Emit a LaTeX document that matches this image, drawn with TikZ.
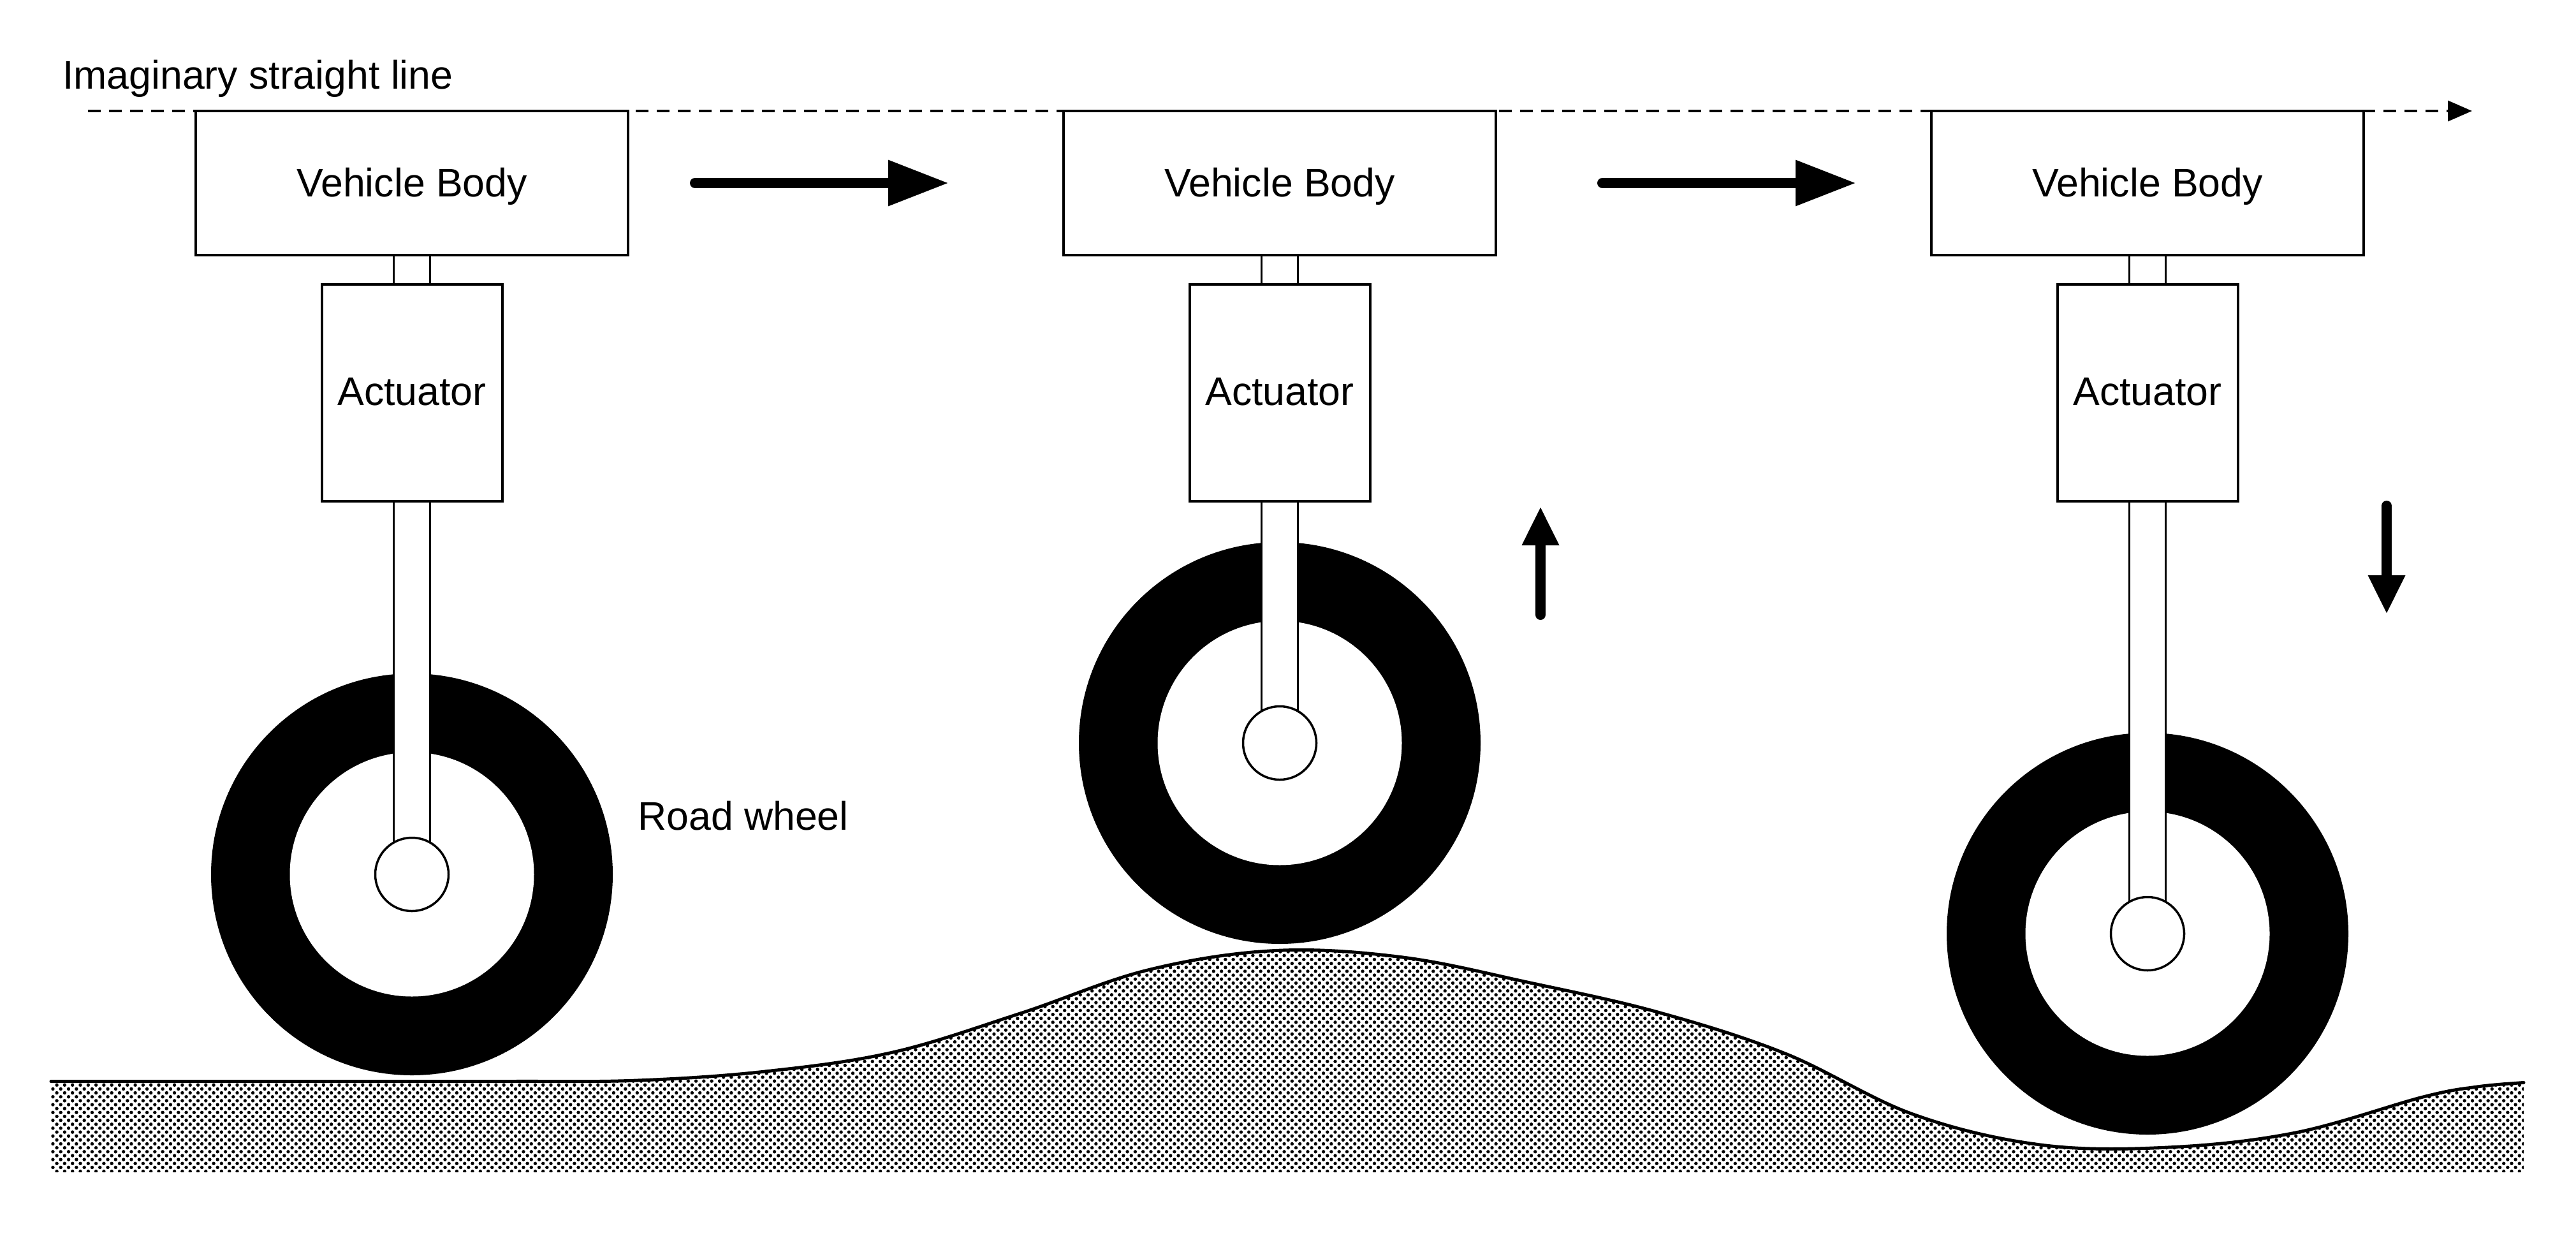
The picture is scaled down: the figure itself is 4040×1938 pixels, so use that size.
\documentclass[tikz,border=0pt]{standalone}
\usepackage{fontspec}
\setmainfont{Liberation Sans}
\usetikzlibrary{arrows.meta,patterns}
\pgfdeclarepatternformonly{grounddots}{\pgfqpoint{-1pt}{-1pt}}{\pgfqpoint{13.3pt}{13.3pt}}{\pgfqpoint{12.3pt}{12.3pt}}{%
  \pgfpathcircle{\pgfqpoint{3pt}{3pt}}{2.7pt}%
  \pgfpathcircle{\pgfqpoint{9.15pt}{9.15pt}}{2.7pt}%
  \pgfusepath{fill}}
\tikzset{
  lbl/.style={font=\fontsize{62.6}{70}\selectfont,inner sep=0pt,text=black},
  box/.style={lbl,draw=black,fill=white,line width=4pt,rectangle,text height=45pt},
  bodybox/.style={box,text depth=2pt,minimum width=678pt,minimum height=226pt},
  actbox/.style={box,text depth=6pt,minimum width=283pt,minimum height=340pt},
  rodfill/.style={rectangle,fill=white,draw=none,inner sep=0pt,minimum width=57pt},
  rodline/.style={draw=black,line width=3.5pt},
  tyre/.style={circle,fill=black,draw=none,inner sep=0pt,minimum size=630pt},
  rim/.style={circle,fill=white,draw=none,inner sep=0pt,minimum size=383pt},
  hub/.style={circle,fill=white,draw=black,line width=3.5pt,inner sep=0pt,minimum size=115pt},
  bigarrow/.style={line width=16pt,line cap=round,-{Triangle[length=95pt,width=68pt]}},
  smallarrow/.style={line width=16pt,line cap=round,-{Triangle[length=61pt,width=54pt]}},
  imagline/.style={line width=4pt,dash pattern=on 20pt off 13.03pt,-{Triangle[length=38pt,width=32pt]}},
  groundline/.style={line width=5pt,line cap=round,line join=round},
}
\begin{document}
\begin{tikzpicture}[x=1pt,y=-1pt]
\fill[white] (0,0) rectangle (4040,1938);
\useasboundingbox (0,0) rectangle (4040,1938);
% ground
\fill[pattern=grounddots,pattern color=black] (80,1838) -- plot[smooth,tension=0.6] coordinates {(80,1695.5) (400,1695.5) (800,1695.5) (1000,1694) (1200,1680) (1400,1650) (1600,1589) (1800,1521) (2000,1490.5) (2200,1501) (2400,1541) (2600,1587) (2800,1652) (3000,1747) (3200,1795) (3400,1799) (3600,1776) (3800,1720) (3885,1704) (3958,1697.5)} -- (3958,1838) -- cycle;
\draw[groundline] plot[smooth,tension=0.6] coordinates {(80,1695.5) (400,1695.5) (800,1695.5) (1000,1694) (1200,1680) (1400,1650) (1600,1589) (1800,1521) (2000,1490.5) (2200,1501) (2400,1541) (2600,1587) (2800,1652) (3000,1747) (3200,1795) (3400,1799) (3600,1776) (3800,1720) (3885,1704) (3958,1697.5)};
% wheels and tyres
\foreach \i/\cx/\wy/\rody/\rodh in {1/646/1371/1078.5/585, 2/2007/1165/975.5/379, 3/3368/1464/1125/678}{
  \node[tyre] (tyre\i) at (\cx,\wy) {};
  \node[rim] (rim\i) at (\cx,\wy) {};
  \node[rodfill,minimum height=\rodh pt] (rod\i) at (\cx,\rody) {};
  \draw[rodline] (rod\i.north west) -- (rod\i.south west) (rod\i.north east) -- (rod\i.south east);
  \node[hub] (hub\i) at (\cx,\wy) {};
  \node[rodfill,minimum height=46pt] (neck\i) at (\cx,423) {};
  \draw[rodline] (neck\i.north west) -- (neck\i.south west) (neck\i.north east) -- (neck\i.south east);
}
% imaginary line
\coordinate (linestart) at (138,174);
\coordinate (lineend) at (3877,174);
% boxes
\foreach \i/\cx in {1/646,2/2007,3/3368}{
  \node[bodybox] (body\i) at (\cx,287) {Vehicle Body};
  \node[actbox] (act\i) at (\cx,616) {Actuator};
}
\draw[imagline] (linestart) -- (lineend);
% labels
\node[lbl,anchor=base west] (imaglabel) at (98,139) {Imaginary straight line};
\node[lbl,anchor=base west] (wheellabel) at (1000,1301) {Road wheel};
% motion arrows
\coordinate (a1s) at (1090,287); \coordinate (a1e) at (1488,287);
\coordinate (a2s) at (2513,287); \coordinate (a2e) at (2911,287);
\coordinate (ups) at (2416,964); \coordinate (upe) at (2416,794);
\coordinate (dns) at (3743,793); \coordinate (dne) at (3743,963);
\draw[bigarrow] (a1s) -- (a1e);
\draw[bigarrow] (a2s) -- (a2e);
\draw[smallarrow] (ups) -- (upe);
\draw[smallarrow] (dns) -- (dne);
\end{tikzpicture}
\end{document}
